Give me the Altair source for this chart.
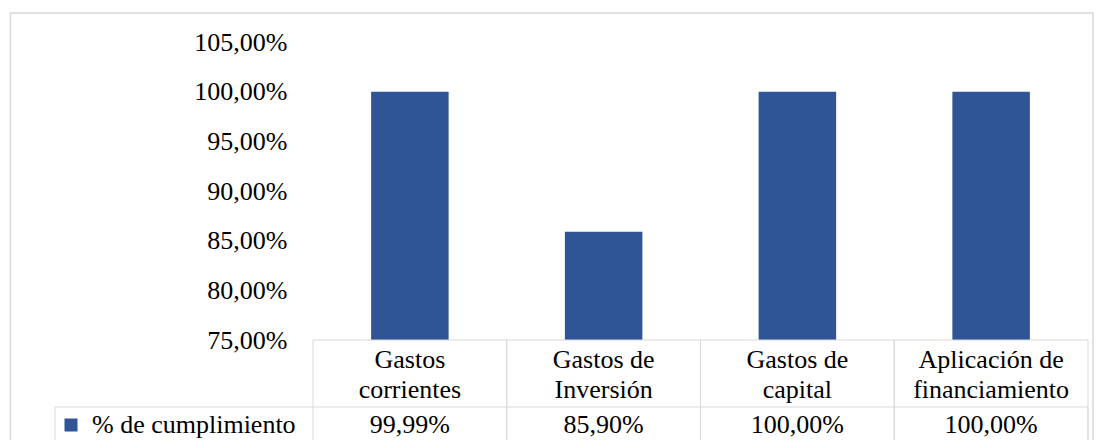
import altair as alt
import pandas as pd

# ---- data ----
categories = ["Gastos corrientes", "Gastos de Inversión", "Gastos de capital", "Aplicación de financiamiento"]
values = [99.99, 85.90, 100.00, 100.00]
series_name = "% de cumplimiento"
y_ticks = [75, 80, 85, 90, 95, 100, 105]

df = pd.DataFrame({"categoria": categories, "valor": values, "serie": [series_name] * len(categories)})
one = pd.DataFrame({"k": [0]})

FONT = "Liberation Serif"
FS = 26
GRID = "#D9D9D9"
BLUE = "#2F5597"

pct_axis = "replace(format(datum.value, '.2f'), '.', ',') + '%'"
split_expr = ("[substring(datum.label, 0, lastindexof(datum.label, ' ')), "
              "substring(datum.label, lastindexof(datum.label, ' ') + 1)]")

base = alt.Chart(df)

# outer light-gray frame
frame = alt.Chart(one).mark_rect(fillOpacity=0, stroke=GRID, strokeWidth=1.5).encode(
    x=alt.value(-302.5), x2=alt.value(780), y=alt.value(-29), y2=alt.value(430)
)

bars = base.mark_bar().encode(
    x=alt.X("categoria:N", sort=categories,
            scale=alt.Scale(paddingInner=0.6, paddingOuter=0.3), axis=None),
    y=alt.Y("valor:Q",
            scale=alt.Scale(domain=[75, 105], zero=False, nice=False),
            axis=alt.Axis(values=y_ticks, labelExpr=pct_axis, domain=False, ticks=False,
                          tickSize=0, grid=False, labelPadding=26, labelFont=FONT,
                          labelFontSize=FS, labelColor="black", title=None)),
    y2=alt.datum(75),
    color=alt.Color("serie:N", scale=alt.Scale(range=[BLUE]),
                    legend=alt.Legend(orient="none", legendX=-255, legendY=370, title=None,
                                      symbolType="square", symbolSize=169, symbolStrokeWidth=0,
                                      symbolOpacity=1, labelLimit=0,
                                      labelFont=FONT, labelFontSize=FS, labelColor="black",
                                      labelOffset=8, padding=0)),
)

xtab_axis = alt.Axis(orient="bottom", domain=False, ticks=False, tickSize=0, grid=False,
                     labelExpr=split_expr, labelFont=FONT, labelFontSize=FS, labelColor="black",
                     labelPadding=27, labelBaseline="alphabetic", labelLineHeight=30,
                     labelAngle=0, labelOverlap=False, labelLimit=0, title=None)
xtab = alt.X("categoria:N", sort=categories,
             scale=alt.Scale(type="band", paddingInner=0, paddingOuter=0), axis=xtab_axis)

cells = base.mark_rect(fillOpacity=0, stroke=GRID, strokeWidth=1).encode(
    x=xtab, y=alt.value(298), y2=alt.value(403)
)

value_row = alt.Chart(one).mark_rect(fillOpacity=0, stroke=GRID, strokeWidth=1).encode(
    x=alt.value(-258), x2=alt.value(775), y=alt.value(365), y2=alt.value(403)
)

texts = base.transform_calculate(
    etiqueta="replace(format(datum.valor, '.2f'), '.', ',') + '%'"
).mark_text(font=FONT, fontSize=FS, baseline="alphabetic", align="center", color="black").encode(
    x=xtab, y=alt.value(391), text="etiqueta:N"
)

table = alt.layer(cells, value_row, texts)

chart = alt.layer(frame, bars, table).resolve_scale(x="independent").properties(
    width=775, height=298,
    autosize=alt.AutoSizeParams(type="none"),
    padding={"left": 305, "top": 34, "right": 6, "bottom": 100},
    background="white",
).configure_view(strokeWidth=0)

chart.save("out.html", embed_options={"renderer": "svg", "actions": False})
